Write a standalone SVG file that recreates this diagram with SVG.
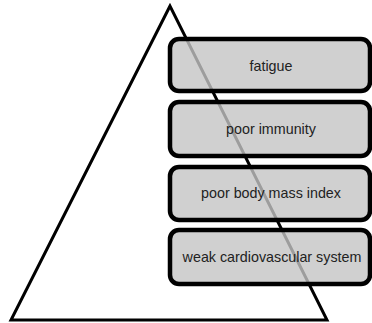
<svg xmlns="http://www.w3.org/2000/svg" width="372" height="323" viewBox="0 0 372 323">
<style>
.box{fill:#c4c4c4;fill-opacity:0.8;stroke:#000;stroke-width:4.5}
.lbl{font-family:"Liberation Sans",Arial,sans-serif;font-size:14.3px;fill:#222;text-anchor:middle;dominant-baseline:central}
</style>
<rect width="372" height="323" fill="#fff"/>
<g id="pyramid">
<polygon points="170,6 11,320 327,320" fill="#fff" stroke="#000" stroke-width="3" stroke-linejoin="miter"/>
</g>
<g id="n1"><rect class="box" x="170" y="39" width="200" height="52" rx="9"/><text class="lbl" x="271" y="66">fatigue</text></g>
<g id="n2"><rect class="box" x="170" y="102" width="200" height="54" rx="9"/><text class="lbl" x="271" y="129">poor immunity</text></g>
<g id="n3"><rect class="box" x="170" y="167" width="200" height="53" rx="9"/><text class="lbl" x="271" y="193">poor body mass index</text></g>
<g id="n4"><rect class="box" x="170" y="230" width="200" height="54" rx="9"/><text class="lbl" x="272" y="257">weak cardiovascular system</text></g>
<g id="connectors"></g>
</svg>
